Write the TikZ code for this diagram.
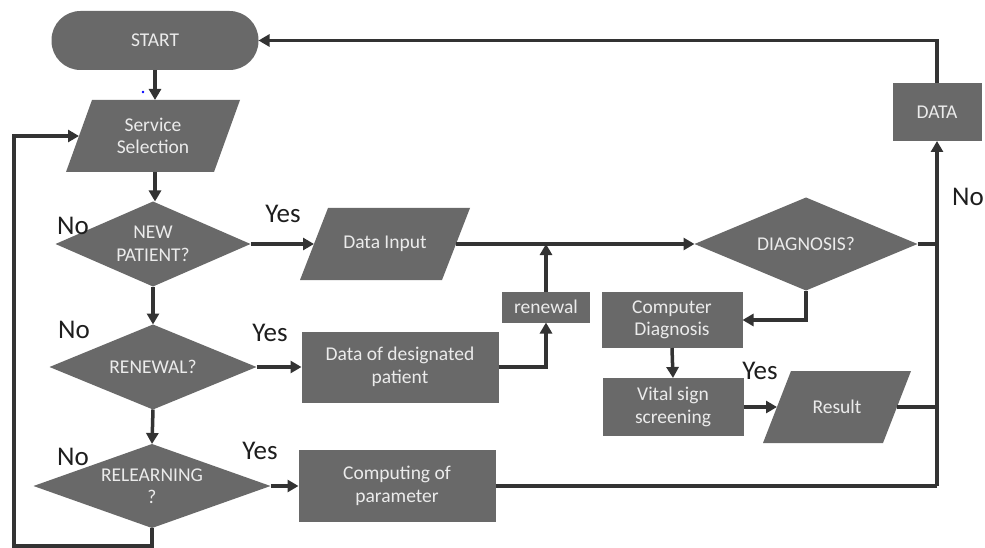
\documentclass[tikz,border=0pt]{standalone}
\usepackage{fontspec}
\setmainfont{Carlito}
\usetikzlibrary{shapes.geometric,arrows.meta}
\definecolor{boxfill}{HTML}{696969}
\definecolor{linec}{HTML}{333333}
\definecolor{txtc}{HTML}{EBEBEB}
\definecolor{lblc}{HTML}{1E1E1E}
% parallelogram: name, cx, cy, edge length, half slant, text
\newcommand{\paranode}[6]{%
  \fill[boxfill] (#2-#4/2+#5,#3-36) -- (#2+#4/2+#5,#3-36) -- (#2+#4/2-#5,#3+36) -- (#2-#4/2-#5,#3+36) -- cycle;
  \node[ptext, minimum width=#4pt] (#1) at (#2,#3) {#6};}
\begin{document}
\begin{tikzpicture}[x=1pt,y=-1pt,
  shp/.style={fill=boxfill, draw=none, text=txtc, font=\fontsize{19.5}{22.5}\selectfont, align=center, inner sep=0pt, outer sep=0pt},
  rbox/.style={shp, rectangle},
  dbox/.style={shp, diamond, aspect=2.6},
  ptext/.style={shp, fill=none, rectangle, minimum height=72pt},
  conn/.style={draw=linec, line width=3.5pt},
  arr/.style={conn, -{Triangle[length=11pt,width=12pt]}},
  lbl/.style={text=lblc, font=\fontsize{27}{30}\selectfont, inner sep=0pt}
]
\useasboundingbox (0,0) rectangle (985,548);
\fill[white] (0,0) rectangle (985,548);

% nodes
\node[rbox, rounded corners=29pt, minimum width=207pt, minimum height=59pt] (start) at (155,40.5) {START};
\paranode{service}{153}{136}{148}{13}{Service\\Selection}
\node[dbox, minimum width=195pt, minimum height=85pt] (newp) at (153,244) {NEW\\PATIENT?};
\node[dbox, minimum width=207pt, minimum height=85pt] (renew) at (153,367) {RENEWAL?};
\node[dbox, minimum width=237pt, minimum height=84pt] (relearn) at (152,486) {RELEARNING\\?};
\paranode{datain}{385}{244}{142}{14}{Data Input}
\node[rbox, minimum width=197pt, minimum height=71pt] (desig) at (400,367) {Data of designated\\patient};
\node[rbox, minimum width=197pt, minimum height=72pt] (comp) at (397,486) {Computing of\\parameter};
\node[rbox, minimum width=88pt, minimum height=31pt] (renewal) at (546,307) {renewal};
\node[dbox, minimum width=223pt, minimum height=93pt] (diag) at (806,244) {DIAGNOSIS?};
\node[rbox, minimum width=141pt, minimum height=56pt] (cd) at (672,320) {Computer\\Diagnosis};
\node[rbox, minimum width=141pt, minimum height=58pt] (vital) at (673,407) {Vital sign\\screening};
\paranode{result}{837}{407}{120}{14}{Result}
\node[rbox, minimum width=89pt, minimum height=58pt] (data) at (937,112) {DATA};

% labels
\node[lbl] (no1) at (73,226) {No};
\node[lbl] (no2) at (74,330) {No};
\node[lbl] (no3) at (73,457) {No};
\node[lbl] (no4) at (968,197) {No};
\node[lbl] (yes1) at (283,214) {Yes};
\node[lbl] (yes2) at (270,333) {Yes};
\node[lbl] (yes3) at (260,451) {Yes};
\node[lbl] (yes4) at (760,371) {Yes};

% stray dot
\fill[blue] (143,92) circle (1.3pt);

% coordinates
\coordinate (lb) at (14,546);
\coordinate (jd) at (937,244);
\coordinate (jc) at (937,486);

% connectors
\draw[arr] (start.south) -- (start.south |- service.north);
\draw[arr] (service.south -| start.south) -- (newp.north -| start.south);
\draw[arr] (newp.south) -- (renew.north);
\draw[arr] (renew.south) -- (relearn.north);
\draw[arr] (relearn.south) |- (lb) |- (service.west);
\draw[arr] (newp.east) -- (datain.west);
\draw[arr] (renew.east) -- (desig.west);
\draw[arr] (relearn.east) -- (comp.west);
\draw[arr] (datain.east) -- (diag.west);
\draw[arr] (desig.east) -| (renewal.south);
\draw[arr] (renewal.north) -- (renewal.north |- datain.east);
\draw[conn] (diag.east) -- (jd);
\draw[conn] (comp.east) -- (jc);
\draw[arr] (jc) -- (data.south);
\draw[conn] (result.east) -- (result.east -| jc);
\draw[arr] (data.north) |- (start.east);
\draw[arr] (diag.south) |- (cd.east);
\draw[arr] (cd.south) -- (vital.north);
\draw[arr] (vital.east) -- (result.west);
\end{tikzpicture}
\end{document}
